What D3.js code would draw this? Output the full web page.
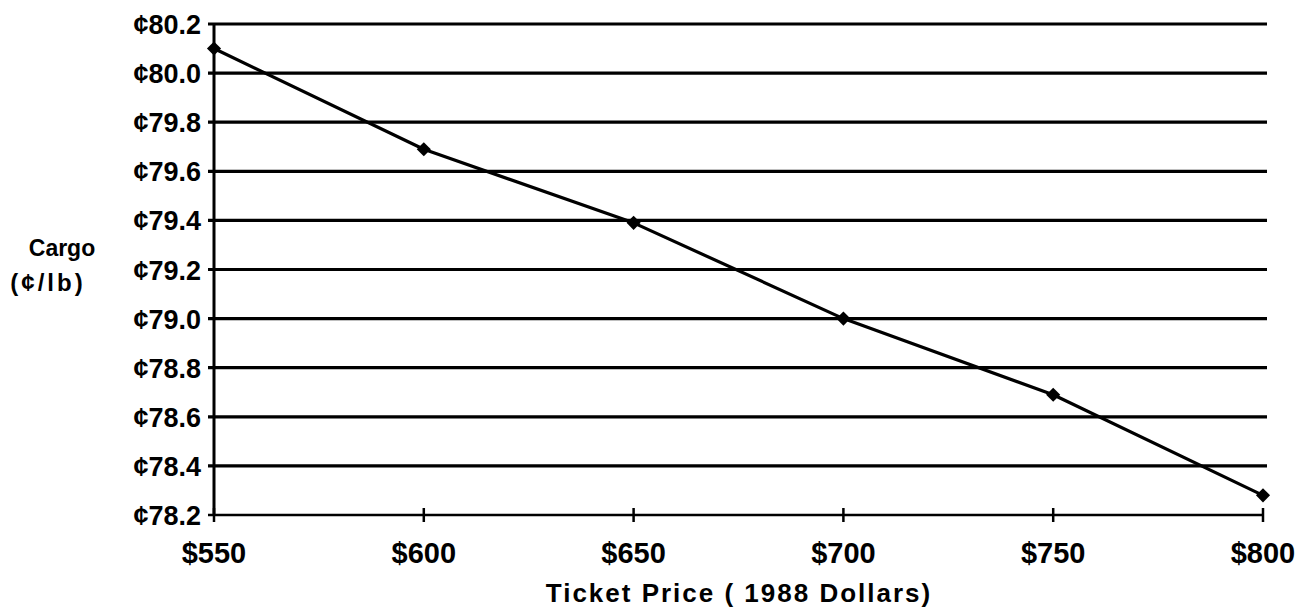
<!DOCTYPE html>
<html>
<head>
<meta charset="utf-8">
<script src="https://cdn.jsdelivr.net/npm/d3@7"></script>
<style>
  body { margin: 0; background: #fff; }
  svg text { font-family: "Liberation Sans", Arial, sans-serif; font-weight: bold; fill: #000; }
</style>
</head>
<body>
<div id="chart"></div>
<script>
// datos
const prices = [550, 600, 650, 700, 750, 800];
const cargo = [80.10, 79.69, 79.39, 79.00, 78.69, 78.28];
const yTicks = [78.2, 78.4, 78.6, 78.8, 79.0, 79.2, 79.4, 79.6, 79.8, 80.0, 80.2];
const xTicks = [550, 600, 650, 700, 750, 800];

const width = 1305, height = 615;
const svg = d3.select("#chart").append("svg")
    .attr("width", width)
    .attr("height", height);

const x = d3.scaleLinear().domain([550, 800]).range([214, 1263]);
const y = d3.scaleLinear().domain([78.2, 80.2]).range([515, 24]);
const gridRight = 1267;

// lineas horizontales
svg.selectAll("line.grid")
    .data(yTicks)
    .enter().append("line")
    .attr("class", "grid")
    .attr("x1", x(550) - 6)
    .attr("x2", d => d === 78.2 ? x(800) : gridRight)
    .attr("y1", d => y(d))
    .attr("y2", d => y(d))
    .attr("stroke", "#000")
    .attr("stroke-width", d => d === 78.2 ? 2.5 : 3.2);

// eje vertical
svg.append("line")
    .attr("x1", x(550)).attr("x2", x(550))
    .attr("y1", y(80.2)).attr("y2", y(78.2))
    .attr("stroke", "#000")
    .attr("stroke-width", 3);

// marcas del eje x
svg.selectAll("line.xtick")
    .data(xTicks)
    .enter().append("line")
    .attr("class", "xtick")
    .attr("x1", d => x(d)).attr("x2", d => x(d))
    .attr("y1", y(78.2) - 7).attr("y2", y(78.2) + 7)
    .attr("stroke", "#000")
    .attr("stroke-width", 2.5);

// etiquetas y
svg.selectAll("text.ylab")
    .data(yTicks)
    .enter().append("text")
    .attr("class", "ylab")
    .attr("x", 201)
    .attr("y", d => y(d) + 10)
    .attr("text-anchor", "end")
    .attr("font-size", 27)
    .text(d => "¢" + d.toFixed(1));

// etiquetas x
svg.selectAll("text.xlab")
    .data(xTicks)
    .enter().append("text")
    .attr("class", "xlab")
    .attr("x", d => x(d))
    .attr("y", 563)
    .attr("text-anchor", "middle")
    .attr("font-size", 29)
    .text(d => "$" + d);

// titulos
svg.append("text")
    .attr("x", 739)
    .attr("y", 602)
    .attr("text-anchor", "middle")
    .attr("font-size", 26)
    .attr("letter-spacing", 2)
    .text("Ticket Price ( 1988 Dollars)");

svg.append("text")
    .attr("x", 62)
    .attr("y", 256)
    .attr("text-anchor", "middle")
    .attr("font-size", 23)
    .text("Cargo");

svg.append("text")
    .attr("x", 48)
    .attr("y", 291)
    .attr("text-anchor", "middle")
    .attr("font-size", 24)
    .attr("letter-spacing", 3)
    .text("(¢/lb)");

// linea de datos
const line = d3.line()
    .x((d, i) => x(prices[i]))
    .y(d => y(d));

svg.append("path")
    .datum(cargo)
    .attr("d", line)
    .attr("fill", "none")
    .attr("stroke", "#000")
    .attr("stroke-width", 3.2)
    .attr("stroke-linejoin", "round");

// marcadores rombo (cuadrado girado)
svg.selectAll("path.pt")
    .data(cargo)
    .enter().append("path")
    .attr("class", "pt")
    .attr("d", d3.symbol().type(d3.symbolSquare).size(100))
    .attr("transform", (d, i) => `translate(${x(prices[i])},${y(d)}) rotate(45)`)
    .attr("fill", "#000");
</script>
</body>
</html>
